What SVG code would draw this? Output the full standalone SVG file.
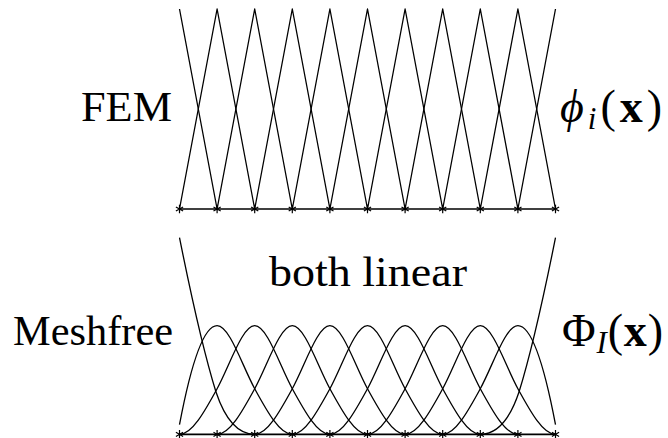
<svg xmlns="http://www.w3.org/2000/svg" xmlns:xlink="http://www.w3.org/1999/xlink" width="668" height="438" viewBox="0 0 668 438">
<style>
  .ln { fill: none; stroke: #000; stroke-width: 1.3; stroke-linejoin: round; }
  .base { fill: none; stroke: #000; stroke-width: 1.7; }
  .star { fill: none; stroke: #000; stroke-width: 1.2; }
  .lbl { font-family: "Liberation Serif", "DejaVu Serif", serif; font-size: 42px; fill: #000; }
  .math { font-family: "Liberation Serif", "DejaVu Serif", serif; font-size: 46px; fill: #000; }
</style>
<defs>
  <path id="bump" class="ln" d="M-75.2,0 C-62.67,0 -50.13,-22.7 -37.6,-45.6 C-25.07,-68.5 -12.53,-108.6 0,-108.6 C12.53,-108.6 25.07,-68.5 37.6,-45.6 C50.13,-22.7 62.67,0 75.2,0"/>
  <path id="star" class="star" d="M0,-4.2 V4.2 M-3.6,-2.1 L3.6,2.1 M-3.6,2.1 L3.6,-2.1"/>
</defs>
<rect width="668" height="438" fill="#fff"/>

<g id="fem">
  <path class="ln" d="M179.5,9 L217.1,209 L254.7,9 L292.3,209 L329.9,9 L367.5,209 L405.1,9 L442.7,209 L480.3,9 L517.9,209 L555.5,9"/>
  <path class="ln" d="M179.5,209 L217.1,9 L254.7,209 L292.3,9 L329.9,209 L367.5,9 L405.1,209 L442.7,9 L480.3,209 L517.9,9 L555.5,209"/>
  <line class="base" x1="179.5" y1="209" x2="555.5" y2="209"/>
  <g id="fem-nodes">
    <use xlink:href="#star" href="#star" transform="translate(179.5,209)"/>
    <use xlink:href="#star" href="#star" transform="translate(217.1,209)"/>
    <use xlink:href="#star" href="#star" transform="translate(254.7,209)"/>
    <use xlink:href="#star" href="#star" transform="translate(292.3,209)"/>
    <use xlink:href="#star" href="#star" transform="translate(329.9,209)"/>
    <use xlink:href="#star" href="#star" transform="translate(367.5,209)"/>
    <use xlink:href="#star" href="#star" transform="translate(405.1,209)"/>
    <use xlink:href="#star" href="#star" transform="translate(442.7,209)"/>
    <use xlink:href="#star" href="#star" transform="translate(480.3,209)"/>
    <use xlink:href="#star" href="#star" transform="translate(517.9,209)"/>
    <use xlink:href="#star" href="#star" transform="translate(555.5,209)"/>
  </g>
</g>

<g id="meshfree">
  <path class="ln" d="M179.5,237.7 C192,300 206,360 216,392 C226,422 240,434.3 254.7,434.3"/>
  <path class="ln" d="M555.5,237.7 C543,300 529,360 519,392 C509,422 495,434.3 480.3,434.3"/>
  <path class="ln" d="M179.5,424.7 Q198.3,325.7 217.1,325.7 C229.6,325.7 242.2,365.8 254.7,388.7 C267.2,411.6 279.8,434.3 292.3,434.3"/>
  <path class="ln" d="M555.5,424.7 Q536.7,325.7 517.9,325.7 C505.4,325.7 492.8,365.8 480.3,388.7 C467.8,411.6 455.2,434.3 442.7,434.3"/>
  <use xlink:href="#bump" href="#bump" transform="translate(254.7,434.3)"/>
  <use xlink:href="#bump" href="#bump" transform="translate(292.3,434.3)"/>
  <use xlink:href="#bump" href="#bump" transform="translate(329.9,434.3)"/>
  <use xlink:href="#bump" href="#bump" transform="translate(367.5,434.3)"/>
  <use xlink:href="#bump" href="#bump" transform="translate(405.1,434.3)"/>
  <use xlink:href="#bump" href="#bump" transform="translate(442.7,434.3)"/>
  <use xlink:href="#bump" href="#bump" transform="translate(480.3,434.3)"/>
  <line class="base" x1="179.5" y1="434.3" x2="555.5" y2="434.3"/>
  <g id="mf-nodes">
    <use xlink:href="#star" href="#star" transform="translate(179.5,434.3)"/>
    <use xlink:href="#star" href="#star" transform="translate(217.1,434.3)"/>
    <use xlink:href="#star" href="#star" transform="translate(254.7,434.3)"/>
    <use xlink:href="#star" href="#star" transform="translate(292.3,434.3)"/>
    <use xlink:href="#star" href="#star" transform="translate(329.9,434.3)"/>
    <use xlink:href="#star" href="#star" transform="translate(367.5,434.3)"/>
    <use xlink:href="#star" href="#star" transform="translate(405.1,434.3)"/>
    <use xlink:href="#star" href="#star" transform="translate(442.7,434.3)"/>
    <use xlink:href="#star" href="#star" transform="translate(480.3,434.3)"/>
    <use xlink:href="#star" href="#star" transform="translate(517.9,434.3)"/>
    <use xlink:href="#star" href="#star" transform="translate(555.5,434.3)"/>
  </g>
</g>

<g id="labels">
  <text id="lbl-fem" class="lbl" x="81" y="121" textLength="91" lengthAdjust="spacingAndGlyphs">FEM</text>
  <text id="lbl-phi" class="math" x="560" y="122" textLength="102" lengthAdjust="spacing"><tspan font-style="italic">ϕ</tspan><tspan font-style="italic" font-size="31px" dy="7">i</tspan><tspan dy="-7">(</tspan><tspan font-weight="bold">x</tspan>)</text>
  <text id="lbl-both" class="lbl" x="269" y="286" textLength="198" lengthAdjust="spacingAndGlyphs">both linear</text>
  <text id="lbl-meshfree" class="lbl" x="13" y="345" textLength="160" lengthAdjust="spacingAndGlyphs">Meshfree</text>
  <text id="lbl-Phi" class="math" x="562" y="346" textLength="101" lengthAdjust="spacing">Φ<tspan font-style="italic" font-size="31px" dy="7">I</tspan><tspan dy="-7">(</tspan><tspan font-weight="bold">x</tspan>)</text>
</g>
</svg>
